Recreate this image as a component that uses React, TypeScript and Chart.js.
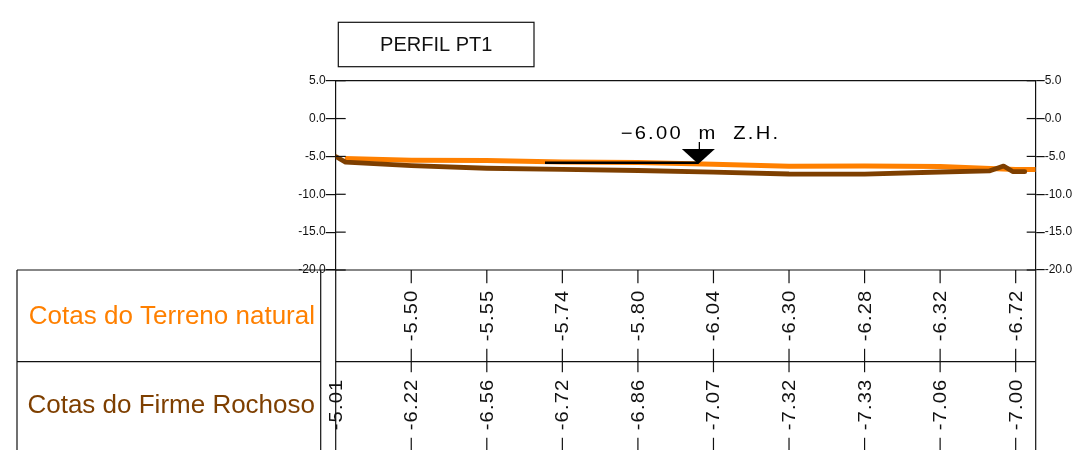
import React, { useEffect, useRef } from "react";
import { Chart, registerables } from "chart.js";

Chart.register(...registerables);

// ---------- data ----------
const chartTitle = "PERFIL PT1";
const rowLabels = ["Cotas do Terreno natural", "Cotas do Firme Rochoso"];
const stations = [0, 10, 20, 30, 40, 50, 60, 70, 80, 90];
const terrenoCotas: (number | null)[] = [null, -5.5, -5.55, -5.74, -5.8, -6.04, -6.3, -6.28, -6.32, -6.72];
const rochosoCotas: (number | null)[] = [-5.01, -6.22, -6.56, -6.72, -6.86, -7.07, -7.32, -7.33, -7.06, -7.0];

const terrenoX = [1.2, 10, 20, 30, 40, 50, 60, 70, 80, 90, 92.65];
const terrenoY = [-5.28, -5.5, -5.55, -5.74, -5.8, -6.04, -6.3, -6.28, -6.32, -6.72, -6.72];

const rochosoX = [0, 1.3, 10, 20, 30, 40, 50, 60, 70, 80, 86.5, 88.4, 89.6, 90, 91.2];
const rochosoY = [-5.01, -5.75, -6.22, -6.56, -6.72, -6.86, -7.07, -7.32, -7.33, -7.06, -6.92, -6.27, -7.0, -7.0, -7.02];

const zhX = [27.7, 48];
const zhY = [-5.84, -5.84];
const zhMarkerX = 48;
const zhLevel = -6.0;
const zhLabel = "\u22126.00  m  Z.H.";

const yMin = -20;
const yMax = 5;
const yStep = 5;
const xMin = 0;
const xMax = 92.65;

const ORANGE = "#FF8000";
const BROWN = "#7E3F00";
const INK = "#111111";
const FONT = '"Liberation Sans", Arial, sans-serif';

const overlayPlugin = {
  id: "profileOverlay",
  afterDraw(chart: any) {
    const { ctx, chartArea, scales } = chart;
    const xs = scales.x;
    const ys = scales.y;
    const L = chartArea.left;
    const R = chartArea.right;
    const T = chartArea.top;
    const B = chartArea.bottom;
    const H = chart.height;

    const line = (x1: number, y1: number, x2: number, y2: number) => {
      ctx.beginPath();
      ctx.moveTo(x1, y1);
      ctx.lineTo(x2, y2);
      ctx.stroke();
    };

    ctx.save();
    ctx.strokeStyle = INK;
    ctx.lineWidth = 1.2;

    // top frame line
    line(L, T, R, T);
    // inner halves of the axis ticks
    for (let v = yMin; v <= yMax; v += yStep) {
      const py = ys.getPixelForValue(v);
      line(L, py, L + 10, py);
      line(R - 9, py, R, py);
    }

    // ---------- table ----------
    const tableLeft = 17;
    const labelRight = 320.7;
    const sep = 361.7;
    const rowCenters = [316, 405];

    line(tableLeft, B, R, B);
    line(tableLeft, B, tableLeft, H);
    line(labelRight, B, labelRight, H);
    line(L, B, L, H);
    line(R, B, R, H);
    line(tableLeft, sep, labelRight, sep);
    line(L, sep, R, sep);

    // station lines
    stations.forEach((s) => {
      const px = xs.getPixelForValue(s);
      if (Math.abs(px - L) > 2) line(px, B, px, H);
    });

    // row labels
    ctx.font = `26px ${FONT}`;
    ctx.textAlign = "right";
    ctx.textBaseline = "middle";
    ctx.fillStyle = ORANGE;
    ctx.fillText(rowLabels[0], 315, rowCenters[0] + 1);
    ctx.fillStyle = BROWN;
    ctx.fillText(rowLabels[1], 315, rowCenters[1] + 1);

    // values (rotated)
    const rows = [terrenoCotas, rochosoCotas];
    const sx = 1.12;
    ctx.font = `18px ${FONT}`;
    (ctx as any).letterSpacing = "1px";
    rows.forEach((vals, r) => {
      vals.forEach((v, i) => {
        if (v === null || v === undefined) return;
        const px = xs.getPixelForValue(stations[i]);
        const txt = v.toFixed(2);
        const w = ctx.measureText(txt).width * sx;
        const cy = rowCenters[r];
        if (Math.abs(px - L) > 2) {
          ctx.fillStyle = "#ffffff";
          ctx.fillRect(px - 8, cy - w / 2 - 7, 16, w + 14);
        }
        ctx.save();
        ctx.translate(px + 1, cy);
        ctx.rotate(-Math.PI / 2);
        ctx.scale(sx, 1);
        ctx.textAlign = "center";
        ctx.textBaseline = "middle";
        ctx.fillStyle = INK;
        ctx.fillText(txt, 0.5, 0);
        ctx.restore();
      });
    });
    (ctx as any).letterSpacing = "0px";

    // ---------- title box ----------
    ctx.lineWidth = 1.2;
    ctx.strokeRect(338.3, 22.3, 195.7, 44.4);
    ctx.fillStyle = INK;
    ctx.font = `20px ${FONT}`;
    ctx.textAlign = "center";
    ctx.textBaseline = "middle";
    ctx.fillText(chartTitle, 436.2, 45);

    // ---------- water level marker ----------
    const mx = xs.getPixelForValue(zhMarkerX);
    const my = ys.getPixelForValue(zhLevel);
    ctx.fillStyle = "#000";
    ctx.beginPath();
    ctx.moveTo(mx - 16.5, my - 15);
    ctx.lineTo(mx + 16.5, my - 15);
    ctx.lineTo(mx, my);
    ctx.closePath();
    ctx.fill();
    ctx.strokeStyle = "#000";
    ctx.lineWidth = 1.3;
    line(mx + 1, my - 22, mx + 1, my - 15);
    ctx.save();
    ctx.translate(mx + 1, my - 25);
    ctx.scale(1.12, 1);
    ctx.font = `18px ${FONT}`;
    (ctx as any).letterSpacing = "2px";
    ctx.textAlign = "center";
    ctx.textBaseline = "alphabetic";
    ctx.fillText(zhLabel, 1, 0);
    (ctx as any).letterSpacing = "0px";
    ctx.restore();

    ctx.restore();
  },
};

export default function App() {
  const canvasRef = useRef<HTMLCanvasElement | null>(null);

  useEffect(() => {
    if (!canvasRef.current) return;
    const toXY = (xa: number[], ya: number[]) => xa.map((x, i) => ({ x, y: ya[i] }));
    const tickFont = { family: FONT, size: 12 };
    const chart = new Chart(canvasRef.current, {
      type: "line",
      data: {
        datasets: [
          {
            label: "Z.H.",
            data: toXY(zhX, zhY),
            borderColor: "#000",
            borderWidth: 2.6,
            pointRadius: 0,
            order: 0,
            yAxisID: "y",
            xAxisID: "x",
          },
          {
            label: rowLabels[1],
            data: toXY(rochosoX, rochosoY),
            borderColor: BROWN,
            borderWidth: 4.8,
            pointRadius: 0,
            borderJoinStyle: "round",
            borderCapStyle: "round",
            order: 1,
            yAxisID: "y",
            xAxisID: "x",
          },
          {
            label: rowLabels[0],
            data: toXY(terrenoX, terrenoY),
            borderColor: ORANGE,
            borderWidth: 5,
            pointRadius: 0,
            borderJoinStyle: "round",
            borderCapStyle: "butt",
            order: 2,
            yAxisID: "y",
            xAxisID: "x",
          },
        ],
      },
      options: {
        animation: false,
        responsive: false,
        maintainAspectRatio: false,
        devicePixelRatio: 1,
        layout: { padding: { left: 295.7, right: 0.3, top: 80.7, bottom: 180 } },
        plugins: { legend: { display: false }, tooltip: { enabled: false }, title: { display: false } },
        scales: {
          x: { type: "linear", min: xMin, max: xMax, display: false },
          y: {
            type: "linear",
            position: "left",
            min: yMin,
            max: yMax,
            afterFit: (s: any) => {
              s.width = 40;
            },
            ticks: {
              stepSize: yStep,
              padding: 0,
              color: INK,
              font: tickFont,
              callback: (v: any) => Number(v).toFixed(1),
            },
            grid: { drawOnChartArea: false, drawTicks: true, tickLength: 10, color: INK, lineWidth: 1.2 },
            border: { display: true, color: INK, width: 1.2 },
          },
          y2: {
            type: "linear",
            position: "right",
            min: yMin,
            max: yMax,
            afterFit: (s: any) => {
              s.width = 44;
            },
            ticks: {
              stepSize: yStep,
              padding: 0,
              color: INK,
              font: tickFont,
              callback: (v: any) => Number(v).toFixed(1),
            },
            grid: { drawOnChartArea: false, drawTicks: true, tickLength: 9, color: INK, lineWidth: 1.2 },
            border: { display: true, color: INK, width: 1.2 },
          },
        },
      },
      plugins: [overlayPlugin],
    } as any);
    return () => chart.destroy();
  }, []);

  return (
    <div style={{ position: "fixed", left: 0, top: 0, width: 1080, height: 450, background: "#fff" }}>
      <canvas ref={canvasRef} width={1080} height={450} style={{ width: 1080, height: 450, display: "block" }} />
    </div>
  );
}
